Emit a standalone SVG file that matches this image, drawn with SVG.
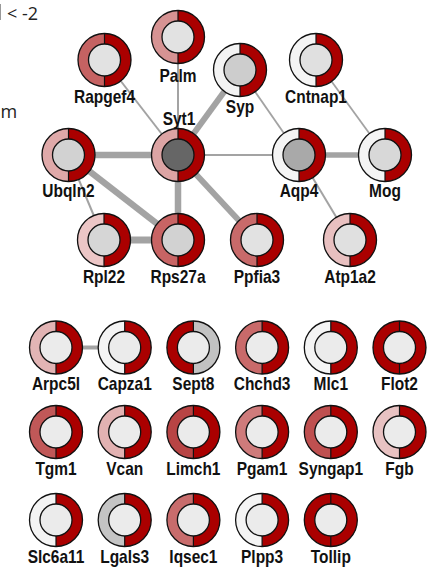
<svg xmlns="http://www.w3.org/2000/svg" xmlns:xlink="http://www.w3.org/1999/xlink" width="430" height="574" viewBox="0 0 430 574">
<style>
.lbl{font-family:"Liberation Sans",Arial,sans-serif;font-weight:bold;font-size:18px;fill:#111;text-anchor:middle}
.leg{font-family:"Open Sans","Noto Sans",sans-serif;font-size:18px;fill:#222}
.in{stroke:#111;stroke-width:1.3}
.e{stroke:#a3a3a3;fill:none}
</style>
<defs>
<path id="rh" d="M0,-26.5 A26.5,26.5 0 0 1 0,26.5 Z"/>
<line id="dv" x1="0" y1="-26.5" x2="0" y2="26.5" stroke="#111" stroke-width="1.2"/>
<circle id="ol" r="26.5" fill="none" stroke="#111" stroke-width="1.3"/>
</defs>
<rect width="430" height="574" fill="#fff"/>
<g id="legend">
<line x1="0.5" y1="4" x2="0.5" y2="20" stroke="#999" stroke-width="1"/>
<text class="leg" x="7" y="20">&lt; -2</text>
<text class="leg" x="0.5" y="118">m</text>
</g>
<g id="edges">
<line class="e" x1="104.5" y1="60" x2="178" y2="155" stroke-width="2"/>
<line class="e" x1="178" y1="37" x2="178" y2="155" stroke-width="2"/>
<line class="e" x1="240" y1="70" x2="178" y2="155" stroke-width="6"/>
<line class="e" x1="240" y1="70" x2="299" y2="155" stroke-width="1.8"/>
<line class="e" x1="316" y1="60" x2="385" y2="155" stroke-width="1.8"/>
<line class="e" x1="178" y1="155" x2="299" y2="155" stroke-width="1.8"/>
<line class="e" x1="299" y1="155" x2="385" y2="155" stroke-width="5.5"/>
<line class="e" x1="299" y1="155" x2="350" y2="240" stroke-width="2"/>
<line class="e" x1="68.5" y1="155" x2="178" y2="155" stroke-width="6.5"/>
<line class="e" x1="68.5" y1="155" x2="178" y2="240" stroke-width="6.5"/>
<line class="e" x1="68.5" y1="155" x2="104" y2="240" stroke-width="2"/>
<line class="e" x1="178" y1="155" x2="178" y2="240" stroke-width="6.5"/>
<line class="e" x1="178" y1="155" x2="257" y2="240" stroke-width="6"/>
<line class="e" x1="104" y1="240" x2="178" y2="240" stroke-width="7"/>
<line class="e" x1="56" y1="347.5" x2="124.7" y2="347.5" stroke-width="4"/>
</g>
<g id="n-Palm" transform="translate(178,37)"><circle r="26.5" fill="#d69393"/><use xlink:href="#rh" fill="#aa0000"/><use xlink:href="#dv"/><circle class="in" r="16" fill="#e2e2e2"/><use xlink:href="#ol"/><text class="lbl" transform="translate(0,45) scale(0.86,1)">Palm</text></g>
<g id="n-Rapgef4" transform="translate(104.5,60)"><circle r="26.5" fill="#c56262"/><use xlink:href="#rh" fill="#aa0000"/><use xlink:href="#dv"/><circle class="in" r="16" fill="#e2e2e2"/><use xlink:href="#ol"/><text class="lbl" transform="translate(0,43) scale(0.86,1)">Rapgef4</text></g>
<g id="n-Syp" transform="translate(240,70)"><circle r="26.5" fill="#f3f3f3"/><use xlink:href="#rh" fill="#aa0000"/><use xlink:href="#dv"/><circle class="in" r="16" fill="#cdcdcd"/><use xlink:href="#ol"/><text class="lbl" transform="translate(0,43) scale(0.86,1)">Syp</text></g>
<g id="n-Cntnap1" transform="translate(316,60)"><circle r="26.5" fill="#f4f4f4"/><use xlink:href="#rh" fill="#aa0000"/><use xlink:href="#dv"/><circle class="in" r="16" fill="#e0e0e0"/><use xlink:href="#ol"/><text class="lbl" transform="translate(0,43) scale(0.86,1)">Cntnap1</text></g>
<g id="n-Syt1" transform="translate(178,155)"><circle r="26.5" fill="#dca4a4"/><use xlink:href="#rh" fill="#aa0000"/><use xlink:href="#dv"/><circle class="in" r="16" fill="#666666"/><use xlink:href="#ol"/><text class="lbl" transform="translate(1,-30) scale(0.86,1)">Syt1</text></g>
<g id="n-Ubqln2" transform="translate(68.5,155)"><circle r="26.5" fill="#dfa9a9"/><use xlink:href="#rh" fill="#aa0000"/><use xlink:href="#dv"/><circle class="in" r="16" fill="#d2d2d2"/><use xlink:href="#ol"/><text class="lbl" transform="translate(0,42) scale(0.86,1)">Ubqln2</text></g>
<g id="n-Aqp4" transform="translate(299,155)"><circle r="26.5" fill="#f4f4f4"/><use xlink:href="#rh" fill="#aa0000"/><use xlink:href="#dv"/><circle class="in" r="16" fill="#a9a9a9"/><use xlink:href="#ol"/><text class="lbl" transform="translate(0,42) scale(0.86,1)">Aqp4</text></g>
<g id="n-Mog" transform="translate(385,155)"><circle r="26.5" fill="#f4f4f4"/><use xlink:href="#rh" fill="#aa0000"/><use xlink:href="#dv"/><circle class="in" r="16" fill="#d8d8d8"/><use xlink:href="#ol"/><text class="lbl" transform="translate(0,42) scale(0.86,1)">Mog</text></g>
<g id="n-Rpl22" transform="translate(104,240)"><circle r="26.5" fill="#ecc6c6"/><use xlink:href="#rh" fill="#aa0000"/><use xlink:href="#dv"/><circle class="in" r="16" fill="#d6d6d6"/><use xlink:href="#ol"/><text class="lbl" transform="translate(0,43) scale(0.86,1)">Rpl22</text></g>
<g id="n-Rps27a" transform="translate(178,240)"><circle r="26.5" fill="#c86464"/><use xlink:href="#rh" fill="#aa0000"/><use xlink:href="#dv"/><circle class="in" r="16" fill="#d2d2d2"/><use xlink:href="#ol"/><text class="lbl" transform="translate(0,43) scale(0.86,1)">Rps27a</text></g>
<g id="n-Ppfia3" transform="translate(257,240)"><circle r="26.5" fill="#c86a6a"/><use xlink:href="#rh" fill="#aa0000"/><use xlink:href="#dv"/><circle class="in" r="16" fill="#e2e2e2"/><use xlink:href="#ol"/><text class="lbl" transform="translate(0,43) scale(0.86,1)">Ppfia3</text></g>
<g id="n-Atp1a2" transform="translate(350,240)"><circle r="26.5" fill="#e8c0c0"/><use xlink:href="#rh" fill="#aa0000"/><use xlink:href="#dv"/><circle class="in" r="16" fill="#e0e0e0"/><use xlink:href="#ol"/><text class="lbl" transform="translate(0,43) scale(0.86,1)">Atp1a2</text></g>
<g id="n-Arpc5l" transform="translate(56,347.5)"><circle r="26.5" fill="#e2b4b4"/><use xlink:href="#rh" fill="#aa0000"/><use xlink:href="#dv"/><circle class="in" r="16" fill="#ebebeb"/><use xlink:href="#ol"/><text class="lbl" transform="translate(0,42.5) scale(0.86,1)">Arpc5l</text></g>
<g id="n-Capza1" transform="translate(124.7,347.5)"><circle r="26.5" fill="#f4f4f4"/><use xlink:href="#rh" fill="#aa0000"/><use xlink:href="#dv"/><circle class="in" r="16" fill="#ebebeb"/><use xlink:href="#ol"/><text class="lbl" transform="translate(0,42.5) scale(0.86,1)">Capza1</text></g>
<g id="n-Sept8" transform="translate(193.4,347.5)"><circle r="26.5" fill="#aa0000"/><use xlink:href="#rh" fill="#c2c2c2"/><use xlink:href="#dv"/><circle class="in" r="16" fill="#ebebeb"/><use xlink:href="#ol"/><text class="lbl" transform="translate(0,42.5) scale(0.86,1)">Sept8</text></g>
<g id="n-Chchd3" transform="translate(262.1,347.5)"><circle r="26.5" fill="#c96a6a"/><use xlink:href="#rh" fill="#aa0000"/><use xlink:href="#dv"/><circle class="in" r="16" fill="#ebebeb"/><use xlink:href="#ol"/><text class="lbl" transform="translate(0,42.5) scale(0.86,1)">Chchd3</text></g>
<g id="n-Mlc1" transform="translate(330.8,347.5)"><circle r="26.5" fill="#f4f4f4"/><use xlink:href="#rh" fill="#aa0000"/><use xlink:href="#dv"/><circle class="in" r="16" fill="#ebebeb"/><use xlink:href="#ol"/><text class="lbl" transform="translate(0,42.5) scale(0.86,1)">Mlc1</text></g>
<g id="n-Flot2" transform="translate(399.5,347.5)"><circle r="26.5" fill="#aa0000"/><use xlink:href="#rh" fill="#aa0000"/><use xlink:href="#dv"/><circle class="in" r="16" fill="#ebebeb"/><use xlink:href="#ol"/><text class="lbl" transform="translate(0,42.5) scale(0.86,1)">Flot2</text></g>
<g id="n-Tgm1" transform="translate(56,432)"><circle r="26.5" fill="#c05858"/><use xlink:href="#rh" fill="#aa0000"/><use xlink:href="#dv"/><circle class="in" r="16" fill="#ebebeb"/><use xlink:href="#ol"/><text class="lbl" transform="translate(0,43) scale(0.86,1)">Tgm1</text></g>
<g id="n-Vcan" transform="translate(124.7,432)"><circle r="26.5" fill="#e2b2b2"/><use xlink:href="#rh" fill="#aa0000"/><use xlink:href="#dv"/><circle class="in" r="16" fill="#ebebeb"/><use xlink:href="#ol"/><text class="lbl" transform="translate(0,43) scale(0.86,1)">Vcan</text></g>
<g id="n-Limch1" transform="translate(193.4,432)"><circle r="26.5" fill="#b84444"/><use xlink:href="#rh" fill="#aa0000"/><use xlink:href="#dv"/><circle class="in" r="16" fill="#ebebeb"/><use xlink:href="#ol"/><text class="lbl" transform="translate(0,43) scale(0.86,1)">Limch1</text></g>
<g id="n-Pgam1" transform="translate(262.1,432)"><circle r="26.5" fill="#cf7b7b"/><use xlink:href="#rh" fill="#aa0000"/><use xlink:href="#dv"/><circle class="in" r="16" fill="#ebebeb"/><use xlink:href="#ol"/><text class="lbl" transform="translate(0,43) scale(0.86,1)">Pgam1</text></g>
<g id="n-Syngap1" transform="translate(330.8,432)"><circle r="26.5" fill="#bf5050"/><use xlink:href="#rh" fill="#aa0000"/><use xlink:href="#dv"/><circle class="in" r="16" fill="#ebebeb"/><use xlink:href="#ol"/><text class="lbl" transform="translate(0,43) scale(0.86,1)">Syngap1</text></g>
<g id="n-Fgb" transform="translate(399.5,432)"><circle r="26.5" fill="#e8c2c2"/><use xlink:href="#rh" fill="#aa0000"/><use xlink:href="#dv"/><circle class="in" r="16" fill="#ebebeb"/><use xlink:href="#ol"/><text class="lbl" transform="translate(0,43) scale(0.86,1)">Fgb</text></g>
<g id="n-Slc6a11" transform="translate(56,520)"><circle r="26.5" fill="#f4f4f4"/><use xlink:href="#rh" fill="#aa0000"/><use xlink:href="#dv"/><circle class="in" r="16" fill="#ebebeb"/><use xlink:href="#ol"/><text class="lbl" transform="translate(0,42.5) scale(0.86,1)">Slc6a11</text></g>
<g id="n-Lgals3" transform="translate(124.7,520)"><circle r="26.5" fill="#c4c4c4"/><use xlink:href="#rh" fill="#aa0000"/><use xlink:href="#dv"/><circle class="in" r="16" fill="#ebebeb"/><use xlink:href="#ol"/><text class="lbl" transform="translate(0,42.5) scale(0.86,1)">Lgals3</text></g>
<g id="n-Iqsec1" transform="translate(193.4,520)"><circle r="26.5" fill="#c86c6c"/><use xlink:href="#rh" fill="#aa0000"/><use xlink:href="#dv"/><circle class="in" r="16" fill="#ebebeb"/><use xlink:href="#ol"/><text class="lbl" transform="translate(0,42.5) scale(0.86,1)">Iqsec1</text></g>
<g id="n-Plpp3" transform="translate(262.1,520)"><circle r="26.5" fill="#f4f4f4"/><use xlink:href="#rh" fill="#aa0000"/><use xlink:href="#dv"/><circle class="in" r="16" fill="#ebebeb"/><use xlink:href="#ol"/><text class="lbl" transform="translate(0,42.5) scale(0.86,1)">Plpp3</text></g>
<g id="n-Tollip" transform="translate(330.8,520)"><circle r="26.5" fill="#aa0000"/><use xlink:href="#rh" fill="#aa0000"/><use xlink:href="#dv"/><circle class="in" r="16" fill="#ebebeb"/><use xlink:href="#ol"/><text class="lbl" transform="translate(0,42.5) scale(0.86,1)">Tollip</text></g>
</svg>
